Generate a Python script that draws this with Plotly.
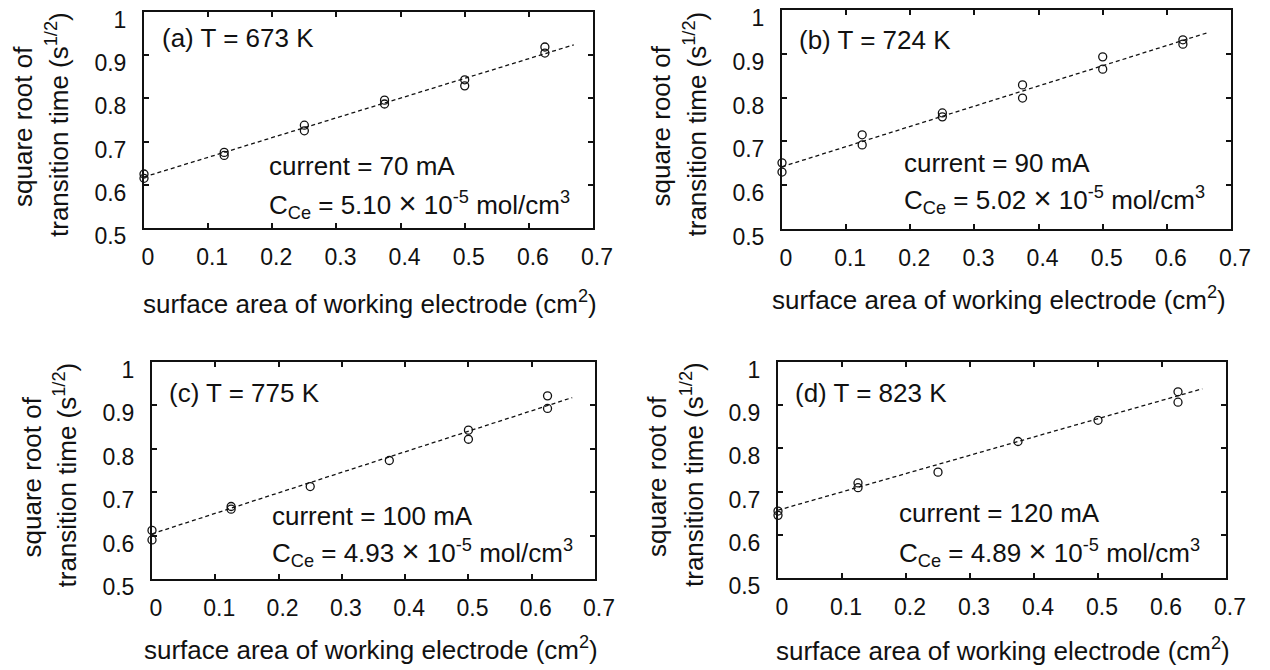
import plotly.graph_objects as go

# ---------------- data ----------------
panel_labels = ["(a) T = 673 K", "(b) T = 724 K", "(c) T = 775 K", "(d) T = 823 K"]
currents = ["current = 70 mA", "current = 90 mA", "current = 100 mA", "current = 120 mA"]
conc = ["5.10", "5.02", "4.93", "4.89"]

area_a = [0, 0, 0.125, 0.125, 0.25, 0.25, 0.375, 0.375, 0.5, 0.5, 0.625, 0.625]
sqrt_t_a = [0.625, 0.615, 0.675, 0.668, 0.738, 0.725, 0.796, 0.787, 0.843, 0.829, 0.919, 0.905]
fit_x_a = [0, 0.67]
fit_y_a = [0.618, 0.924]

area_b = [0, 0, 0.125, 0.125, 0.25, 0.25, 0.375, 0.375, 0.5, 0.5, 0.625, 0.625]
sqrt_t_b = [0.651, 0.630, 0.715, 0.692, 0.765, 0.756, 0.829, 0.799, 0.893, 0.865, 0.932, 0.922]
fit_x_b = [0, 0.663]
fit_y_b = [0.642, 0.948]

area_c = [0, 0, 0.125, 0.125, 0.25, 0.375, 0.5, 0.5, 0.625, 0.625]
sqrt_t_c = [0.612, 0.590, 0.667, 0.661, 0.713, 0.773, 0.843, 0.822, 0.922, 0.893]
fit_x_c = [0, 0.664]
fit_y_c = [0.604, 0.918]

area_d = [0, 0, 0.125, 0.125, 0.25, 0.375, 0.5, 0.625, 0.625]
sqrt_t_d = [0.655, 0.645, 0.720, 0.709, 0.745, 0.816, 0.865, 0.931, 0.907]
fit_x_d = [0, 0.663]
fit_y_d = [0.657, 0.938]

x_ticks = [0, 0.1, 0.2, 0.3, 0.4, 0.5, 0.6, 0.7]
x_ticktext = ["0", "0.1", "0.2", "0.3", "0.4", "0.5", "0.6", "0.7"]
y_ticks = [0.5, 0.6, 0.7, 0.8, 0.9, 1.0]
y_ticktext = ["0.5", "0.6", "0.7", "0.8", "0.9", "1"]

x_title = "surface area of working electrode (cm<sup>2</sup>)"
y_title_1 = "square root of"
y_title_2 = "transition time (s<sup>1/2</sup>)"

# ---------------- layout geometry (pixels) ----------------
W, H = 1270, 670
FONT = "Liberation Sans, Arial, Helvetica, sans-serif"
INK = "#111111"
TICK_SIZE = 23
TITLE_SIZE = 26
NOTE_SIZE = 26
# (left, right, top, bottom) of each plot box
boxes = [(144, 593, 12, 228), (782, 1231, 10, 229), (152, 595, 362, 579), (778, 1226, 362, 578)]
# text placement per panel: (label dx, label dy, note dx, current dy, conc dy, x-title dy, x-title dx)
text_pos = [(16, 26, 123, 154, 192, 74, 1),
            (15, 30, 120, 153, 189, 69, -8),
            (15, 31, 118, 154, 190, 69, -3),
            (15, 31, 119, 151, 190, 71, 1)]

series = [
    (area_a, sqrt_t_a, fit_x_a, fit_y_a),
    (area_b, sqrt_t_b, fit_x_b, fit_y_b),
    (area_c, sqrt_t_c, fit_x_c, fit_y_c),
    (area_d, sqrt_t_d, fit_x_d, fit_y_d),
]

fig = go.Figure()
layout = dict(
    template="none",
    width=W, height=H, autosize=False,
    margin=dict(l=0, r=0, t=0, b=0, pad=0, autoexpand=False),
    paper_bgcolor="white", plot_bgcolor="white",
    showlegend=False,
    font=dict(family=FONT, color=INK, size=TICK_SIZE),
)
annotations = []

def px(x):
    return x / W

def py(y):
    return 1 - y / H

def note(x, y, text, size, xanchor="left", angle=0):
    return dict(xref="paper", yref="paper", x=px(x), y=py(y), xanchor=xanchor, yanchor="middle",
                showarrow=False, text=text, textangle=angle,
                font=dict(size=size, family=FONT, color=INK))

TIMES = '<span style="font-size:31px">\u00d7</span>'

for i, ((l, r, t, b), (xs, ys, fx, fy), tp) in enumerate(zip(boxes, series, text_pos)):
    n = "" if i == 0 else str(i + 1)
    xa, ya = "x" + n, "y" + n
    fig.add_trace(go.Scatter(x=fx, y=fy, mode="lines", xaxis=xa, yaxis=ya,
                             line=dict(color=INK, width=1.3, dash="4px,3px"),
                             hoverinfo="skip", cliponaxis=False))
    fig.add_trace(go.Scatter(x=xs, y=ys, mode="markers", xaxis=xa, yaxis=ya,
                             marker=dict(symbol="circle-open", size=8, color=INK,
                                         line=dict(width=1.3, color=INK)),
                             cliponaxis=False))
    common = dict(showgrid=False, zeroline=False, showline=True, mirror="ticks",
                  automargin=False,
                  linecolor=INK, linewidth=2, ticks="inside", ticklen=5, tickwidth=1.5,
                  tickcolor=INK, tickfont=dict(size=TICK_SIZE, family=FONT, color=INK))
    layout["xaxis" + n] = dict(common, domain=[px(l), px(r)], range=[0, 0.7],
                               tickmode="array", tickvals=x_ticks, ticktext=x_ticktext,
                               anchor=ya, ticklabelstandoff=7, ticklabelshift=4)
    layout["yaxis" + n] = dict(common, domain=[py(b), py(t)], range=[0.5, 1.0],
                               tickmode="array", tickvals=y_ticks, ticktext=y_ticktext,
                               anchor=xa, ticklabelstandoff=11, ticklabelshift=8)
    ldx, ldy, ndx, cdy, kdy, tdy, tdx = tp
    mid_y = (t + b) / 2
    # axis titles
    annotations.append(note((l + r) / 2 + tdx, b + tdy, x_title, TITLE_SIZE, xanchor="center"))
    annotations.append(note(l - 121, mid_y + 7, y_title_1, TITLE_SIZE, xanchor="center", angle=-90))
    annotations.append(note(l - 86, mid_y + 5, y_title_2, TITLE_SIZE, xanchor="center", angle=-90))
    # in-panel texts
    annotations.append(note(l + ldx, t + ldy, panel_labels[i], NOTE_SIZE))
    annotations.append(note(l + ndx, t + cdy, currents[i], NOTE_SIZE))
    annotations.append(note(l + ndx, t + kdy,
                            "C<sub>Ce</sub> = " + conc[i] + " " + TIMES + " 10<sup>-5</sup> mol/cm<sup>3</sup>",
                            NOTE_SIZE))

layout["annotations"] = annotations
fig.update_layout(**layout)
fig.write_html("out.html")
